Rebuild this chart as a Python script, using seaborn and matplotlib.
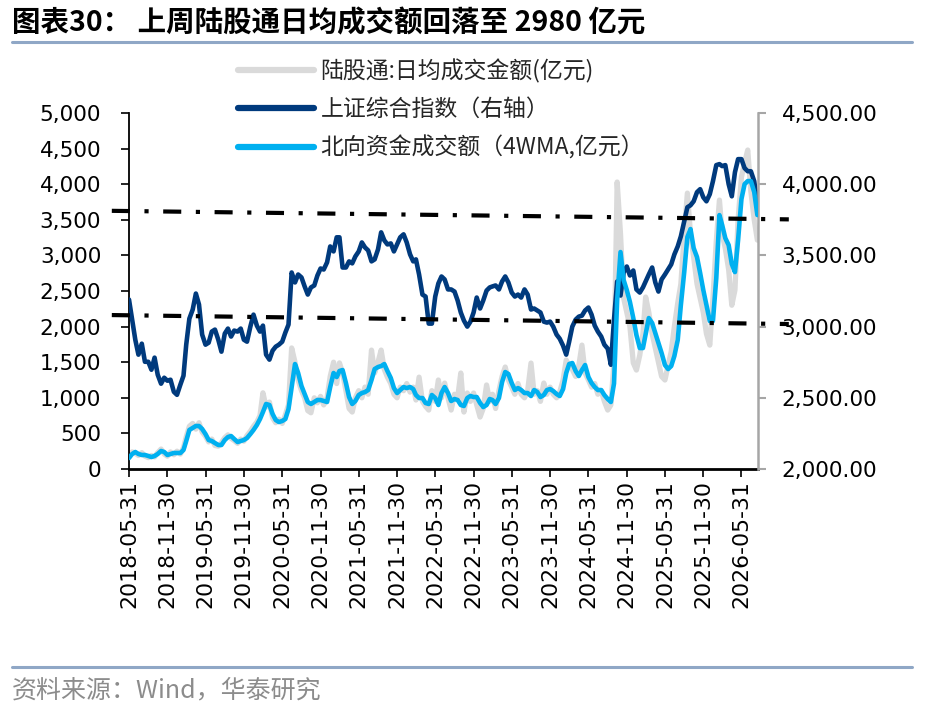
import pandas as pd
import matplotlib.pyplot as plt
import seaborn as sns
from matplotlib.lines import Line2D
from matplotlib.ticker import FuncFormatter, MultipleLocator

# semi-monthly points, 2018-05-31 .. 2026-08-15
dates = pd.date_range('2018-05-31', '2026-08-15', freq='SME')

# 上证综合指数 (right axis)
sse_index = [3190, 3049, 2908, 2803, 2880, 2753, 2753, 2697, 2782, 2662,
             2599, 2641, 2620, 2627, 2542, 2521, 2592, 2655, 2873, 3056,
             3120, 3232, 3155, 2944, 2873, 2887, 2965, 2979, 2908, 2824,
             2951, 2986, 2930, 2972, 2965, 2986, 2908, 2894, 3000, 3084,
             3007, 2965, 3007, 2803, 2768, 2831, 2859, 2873, 2894, 2958,
             3014, 3380, 3310, 3366, 3345, 3282, 3225, 3275, 3289, 3359,
             3408, 3401, 3451, 3563, 3528, 3627, 3627, 3415, 3415, 3458,
             3444, 3493, 3528, 3591, 3556, 3535, 3458, 3472, 3542, 3662,
             3606, 3577, 3584, 3528, 3577, 3627, 3648, 3591, 3507, 3458,
             3472, 3366, 3225, 3211, 3021, 3021, 3211, 3303, 3352, 3331,
             3261, 3261, 3246, 3183, 3099, 3042, 3000, 3035, 3099, 3204,
             3127, 3183, 3253, 3275, 3282, 3289, 3261, 3317, 3352, 3310,
             3239, 3211, 3225, 3204, 3261, 3225, 3120, 3127, 3113, 3099,
             3035, 3028, 3035, 3000, 2944, 2915, 2866, 2803, 2894, 3000,
             3049, 3070, 3077, 3113, 3134, 3084, 3007, 2965, 2930, 2873,
             2845, 2732, 3050, 3317, 3218, 3380, 3422, 3359, 3394, 3261,
             3239, 3275, 3317, 3366, 3415, 3310, 3246, 3331, 3366, 3401,
             3437, 3507, 3563, 3634, 3739, 3838, 3852, 3880, 3944, 3965,
             3908, 3880, 3930, 4021, 4134, 4141, 4127, 4134, 4000, 3915,
             4084, 4176, 4176, 4113, 4091, 4091, 4021, 3859]

# 北向资金成交额 4WMA (left axis)
north_4wma = [154, 211, 239, 211, 197, 197, 183, 168, 183, 211,
              253, 239, 197, 211, 225, 225, 225, 267, 393, 548,
              576, 604, 604, 562, 491, 407, 393, 365, 337, 337,
              407, 449, 463, 421, 379, 393, 407, 435, 491, 548,
              618, 702, 800, 913, 899, 772, 688, 660, 674, 702,
              842, 1151, 1474, 1348, 1165, 1053, 941, 913, 941, 969,
              969, 955, 941, 1151, 1348, 1292, 1376, 1390, 1207, 1011,
              913, 955, 1039, 1067, 1081, 1109, 1250, 1404, 1432, 1446,
              1474, 1376, 1278, 1137, 1067, 1109, 1151, 1137, 1151, 1123,
              1039, 997, 997, 927, 913, 1039, 997, 899, 1067, 1151,
              1067, 955, 983, 969, 899, 885, 997, 1025, 1011, 1011,
              927, 870, 899, 983, 969, 913, 997, 1221, 1362, 1334,
              1207, 1109, 1137, 1109, 1067, 1067, 1025, 1109, 1081, 1011,
              1039, 1109, 1123, 1095, 1053, 1025, 1123, 1348, 1474, 1488,
              1376, 1306, 1390, 1460, 1292, 1207, 1151, 1109, 1109, 1039,
              983, 941, 1200, 2373, 3047, 2654, 2513, 2345, 2120, 1881,
              1699, 1699, 1895, 2120, 2050, 1909, 1769, 1629, 1460, 1404,
              1446, 1587, 1811, 2303, 2766, 3257, 3370, 3103, 2976, 2752,
              2513, 2303, 2078, 2078, 2682, 3566, 3426, 3243, 3145, 2878,
              2766, 3215, 3791, 4001, 4044, 4044, 3889, 3566]

# 陆股通 日均成交金额 (left axis)
daily_turnover = [170, 240, 220, 190, 230, 180, 160, 190, 170, 230,
                  280, 210, 180, 240, 200, 250, 210, 300, 450, 600,
                  640, 560, 650, 520, 460, 380, 420, 330, 320, 370,
                  440, 480, 430, 400, 360, 420, 390, 470, 530, 600,
                  660, 750, 1070, 870, 940, 720, 650, 700, 640, 760,
                  900, 1700, 1500, 1250, 1100, 1000, 820, 790, 1000, 930,
                  1020, 900, 1000, 1300, 1500, 1200, 1490, 1350, 1100, 850,
                  800, 1000, 1100, 1000, 1150, 1050, 1670, 1350, 1500, 1670,
                  1400, 1290, 1200, 1050, 1000, 1150, 1100, 1200, 1080, 1150,
                  969, 1290, 950, 880, 828, 1100, 950, 1250, 1000, 1207,
                  1000, 828, 1050, 1000, 1348, 800, 1067, 950, 1067, 900,
                  730, 850, 1180, 950, 1050, 850, 1100, 1300, 1432, 1250,
                  1150, 1050, 1200, 1050, 1000, 1100, 1488, 1050, 1100, 950,
                  1207, 1050, 1150, 1050, 1000, 1080, 1250, 1530, 1450, 1400,
                  1300, 1450, 1740, 1350, 1250, 1150, 1200, 1050, 1100, 950,
                  828, 900, 1500, 4030, 3300, 2400, 2200, 2000, 1490, 1390,
                  1600, 1900, 2415, 2200, 1900, 1700, 1500, 1300, 1250, 1450,
                  1650, 2000, 2330, 2600, 3300, 3875, 3300, 2976, 2600, 2400,
                  2200, 1900, 1740, 2400, 3200, 3777, 3300, 3100, 2800, 2300,
                  2513, 3500, 4100, 4300, 4480, 3900, 3500, 3215]

# the two dash-dot guide lines (right axis units)
trend_dates = ['2018-03-10', '2027-01-12']
upper_trend = [3813, 3753]
lower_trend = [3081, 3018]

tick_dates = pd.date_range('2018-05-31', '2026-05-31', freq='6ME')

labels = ['陆股通:日均成交金额(亿元)', '上证综合指数（右轴）', '北向资金成交额（4WMA,亿元）']
title = '图表30： 上周陆股通日均成交额回落至 2980 亿元'
source = '资料来源：Wind，华泰研究'

GRAY, NAVY, BLUE = '#DADADA', '#003A7D', '#00B0F0'
CJK = ['Noto Sans CJK SC', 'DejaVu Sans']

if __name__ == '__main__':
    sns.set_style('white')
    plt.rcParams['font.family'] = ['DejaVu Sans', 'Noto Sans CJK SC']
    plt.rcParams['lines.scale_dashes'] = False

    df = pd.DataFrame({'date': dates, 'turnover': daily_turnover,
                       'wma': north_4wma, 'sse': sse_index})

    fig = plt.figure(figsize=(9.27, 7.03), dpi=100)
    ax = fig.add_axes([129 / 927, 1 - 469 / 703, 629 / 927, 356 / 703])
    ax2 = ax.twinx()

    sns.lineplot(data=df, x='date', y='turnover', ax=ax, color=GRAY, lw=3.8)
    sns.lineplot(data=df, x='date', y='sse', ax=ax2, color=NAVY, lw=3.3, zorder=2)
    # blue sits above the index line but uses the left scale
    sns.lineplot(data=df, x='date', y='wma', ax=ax2, color=BLUE, lw=3.3, zorder=3,
                 transform=ax.transData)

    tdates = pd.to_datetime(trend_dates)
    for vals in (upper_trend, lower_trend):
        ax2.plot(tdates, vals, color='black', lw=3, dashes=(13, 10.5, 3, 10.5),
                 dash_capstyle='butt', clip_on=False, zorder=5)

    ax.set_xlim(pd.Timestamp('2018-05-31'), pd.Timestamp('2026-08-18'))
    ax.set_ylim(0, 5000)
    ax2.set_ylim(2000, 4500)
    ax.yaxis.set_major_locator(MultipleLocator(500))
    ax2.yaxis.set_major_locator(MultipleLocator(500))
    ax.yaxis.set_major_formatter(FuncFormatter(lambda v, p: f'{v:,.0f}'))
    ax2.yaxis.set_major_formatter(FuncFormatter(lambda v, p: f'{v:,.2f}'))
    ax.set_xticks(tick_dates)
    ax.set_xticklabels([d.strftime('%Y-%m-%d') for d in tick_dates], rotation=90)
    for a in (ax, ax2):
        a.set_xlabel('')
        a.set_ylabel('')

    for s in ('top', 'right'):
        ax.spines[s].set_visible(False)
    for s in ('top', 'left', 'bottom'):
        ax2.spines[s].set_visible(False)
    ax.spines['left'].set_color('black')
    ax.spines['left'].set_linewidth(1.3)
    ax.spines['bottom'].set_color('black')
    ax.spines['bottom'].set_linewidth(2)
    ax2.spines['right'].set_color('#A6A6A6')
    ax2.spines['right'].set_linewidth(1.8)

    ax.tick_params(axis='y', left=True, direction='out', length=6, width=1.2,
                   pad=14, labelsize=15.5, color='black', labelcolor='black')
    ax.tick_params(axis='x', bottom=True, direction='out', length=6, width=1.2,
                   pad=2, labelsize=15.8, color='black', labelcolor='black')
    ax2.tick_params(axis='y', right=True, direction='out', length=6, width=1.5,
                    pad=11, labelsize=15.5, color='#A6A6A6', labelcolor='black')

    handles = [Line2D([], [], color=c, lw=4.5, solid_capstyle='round')
               for c in (GRAY, NAVY, BLUE)]
    ax2.legend(handles, labels, loc='upper left',
               bbox_to_anchor=(238 / 927, 1 - 59 / 703), bbox_transform=fig.transFigure,
               frameon=False, borderpad=0, borderaxespad=0, handlelength=3.3,
               handletextpad=0.3, labelspacing=0.64,
               prop={'family': CJK, 'size': 16.5})

    fig.text(12 / 927, 1 - 23 / 703, title, fontsize=20.5, weight='bold',
             family=CJK, va='center', color='black')
    fig.add_artist(Line2D([12 / 927, 912 / 927], [1 - 42 / 703] * 2,
                          color='#8FA7C6', lw=2.2, transform=fig.transFigure))
    fig.add_artist(Line2D([12 / 927, 912 / 927], [1 - 667 / 703] * 2,
                          color='#8FA7C6', lw=2.2, transform=fig.transFigure))
    fig.text(12 / 927, 1 - 690 / 703, source, fontsize=18, family=CJK,
             va='center', color='#8C8C8C')

    fig.savefig('out.png', dpi=100)
